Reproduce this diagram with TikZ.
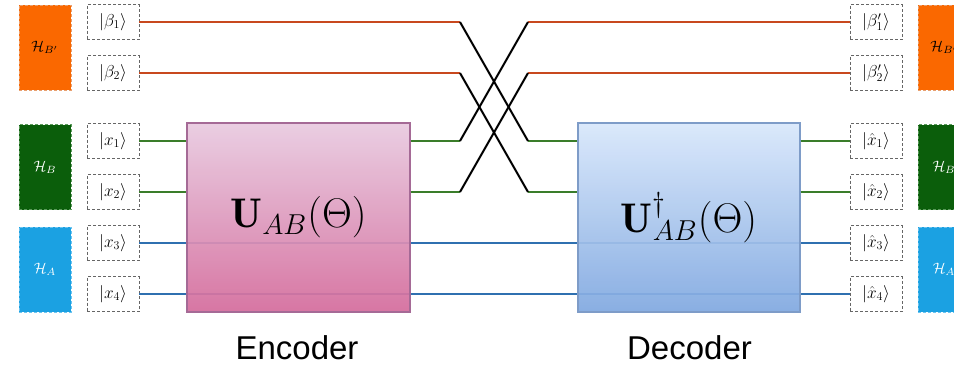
\documentclass[tikz,border=0pt]{standalone}
\usepackage{graphicx}
\usepackage{fontspec}
\newfontfamily\labfont{Liberation Sans}
\usetikzlibrary{calc}
\definecolor{orF}{HTML}{FA6800}
\definecolor{orD}{HTML}{E8A070}
\definecolor{grF}{HTML}{0B5E0B}
\definecolor{grD}{HTML}{5A9A5A}
\definecolor{blF}{HTML}{1BA1E2}
\definecolor{blD}{HTML}{6CC4F0}
\definecolor{orL}{HTML}{C8481E}
\definecolor{grL}{HTML}{3A7D2A}
\definecolor{blL}{HTML}{2F70B0}
\definecolor{encT}{HTML}{E8CAE0}
\definecolor{encB}{HTML}{D46C9C}
\definecolor{encD}{HTML}{A56A96}
\definecolor{decT}{HTML}{D8E7FB}
\definecolor{decB}{HTML}{80A8E0}
\definecolor{decD}{HTML}{7E9CC8}
\newcommand{\bigmath}[1]{\scalebox{2}{\fontsize{20.74}{24}\selectfont$#1$}}
\newcommand{\hmath}[1]{\scalebox{1.5}{$#1$}}
\begin{document}
\begin{tikzpicture}[x=1pt,y=-1pt,
  hbox/.style={draw, densely dashed, line width=0.8pt, minimum width=52pt, minimum height=85pt, inner sep=0pt},
  kbox/.style={draw=black!60, densely dashed, line width=0.8pt, fill=white, minimum width=52pt, minimum height=35pt, inner sep=0pt, font=\fontsize{17.28}{20}\selectfont},
  oline/.style={orL, line width=2.2pt},
  gline/.style={grL, line width=2.2pt},
  bline/.style={blL, line width=2.2pt},
  xline/.style={black, line width=2pt},
  gate/.style={draw, line width=1.2pt, minimum width=223pt, minimum height=189pt, inner sep=0pt, fill opacity=0.93, text opacity=1},
  caption/.style={font=\labfont\fontsize{33}{38}\selectfont, anchor=base, inner sep=0pt}
]
\useasboundingbox (0,0) rectangle (954,368);
% left Hilbert spaces
\node[hbox, fill=orF, draw=orD, text=black] (HBpL) at (45,47.5) {\hmath{\mathcal{H}_{B'}}};
\node[hbox, fill=grF, draw=grD, text=white] (HBL) at (45,167) {\hmath{\mathcal{H}_{B}}};
\node[hbox, fill=blF, draw=blD, text=white] (HAL) at (45,269.5) {\hmath{\mathcal{H}_{A}}};
% right Hilbert spaces
\node[hbox, fill=orF, draw=orD, text=black] (HBpR) at (944,47.5) {\hmath{\mathcal{H}_{B'}}};
\node[hbox, fill=grF, draw=grD, text=white] (HBR) at (944,167) {\hmath{\mathcal{H}_{B}}};
\node[hbox, fill=blF, draw=blD, text=white] (HAR) at (944,269.5) {\hmath{\mathcal{H}_{A}}};
% left kets
\node[kbox] (b1) at (113,22) {$|\beta_1\rangle$};
\node[kbox] (b2) at (113,73) {$|\beta_2\rangle$};
\node[kbox] (x1) at (113,141) {$|x_1\rangle$};
\node[kbox] (x2) at (113,192) {$|x_2\rangle$};
\node[kbox] (x3) at (113,243) {$|x_3\rangle$};
\node[kbox] (x4) at (113,294) {$|x_4\rangle$};
% right kets
\node[kbox] (rb1) at (876,22) {$|\beta'_1\rangle$};
\node[kbox] (rb2) at (876,73) {$|\beta'_2\rangle$};
\node[kbox] (rx1) at (876,141) {$|\hat{x}_1\rangle$};
\node[kbox] (rx2) at (876,192) {$|\hat{x}_2\rangle$};
\node[kbox] (rx3) at (876,243) {$|\hat{x}_3\rangle$};
\node[kbox] (rx4) at (876,294) {$|\hat{x}_4\rangle$};
% crossing points
\coordinate (cl1) at (460,22);
\coordinate (cl2) at (460,73);
\coordinate (cl3) at (460,141);
\coordinate (cl4) at (460,192);
\coordinate (cr1) at (528,22);
\coordinate (cr2) at (528,73);
\coordinate (cr3) at (528,141);
\coordinate (cr4) at (528,192);
% blue lines (behind gates)
\draw[bline] (x3.east) -- (rx3.west);
\draw[bline] (x4.east) -- (rx4.west);
% gates
\node[gate, draw=encD, top color=encT, bottom color=encB] (enc) at (298.5,217.5) {\bigmath{\mathbf{U}_{AB}(\Theta)}};
\node[gate, draw=decD, top color=decT, bottom color=decB, minimum width=222pt] (dec) at (689,217.5) {\bigmath{\mathbf{U}^{\dagger}_{AB}(\Theta)}};
% orange lines
\draw[oline] (b1.east) -- (cl1);
\draw[oline] (b2.east) -- (cl2);
\draw[oline] (cr1) -- (rb1.west);
\draw[oline] (cr2) -- (rb2.west);
% green lines
\draw[gline] (x1.east) -- (x1.east -| enc.west);
\draw[gline] (x2.east) -- (x2.east -| enc.west);
\draw[gline] (x1.east -| enc.east) -- (cl3);
\draw[gline] (x2.east -| enc.east) -- (cl4);
\draw[gline] (cr3) -- (cr3 -| dec.west);
\draw[gline] (cr4) -- (cr4 -| dec.west);
\draw[gline] (rx1.west -| dec.east) -- (rx1.west);
\draw[gline] (rx2.west -| dec.east) -- (rx2.west);
% swaps
\draw[xline] (cl1) -- (cr3);
\draw[xline] (cl2) -- (cr4);
\draw[xline] (cl3) -- (cr1);
\draw[xline] (cl4) -- (cr2);
% captions
\node[caption] (encl) at (297,359) {Encoder};
\node[caption] (decl) at (689.5,359) {Decoder};
\end{tikzpicture}
\end{document}
